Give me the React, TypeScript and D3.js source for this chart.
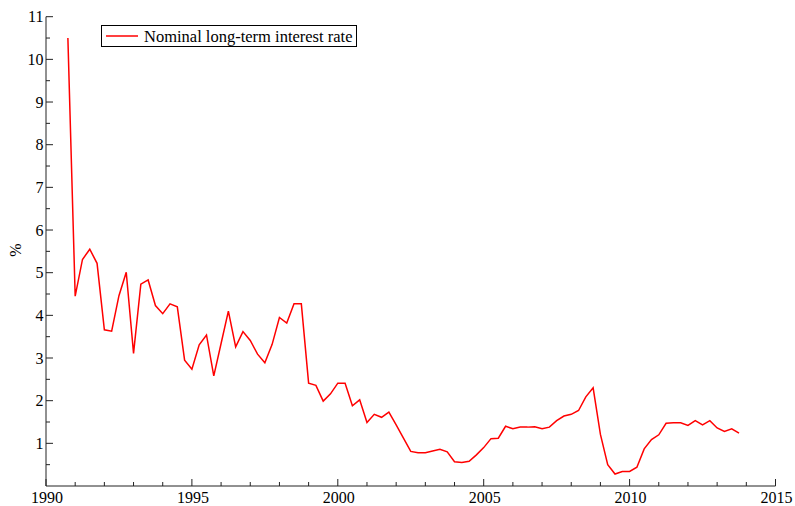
import React from "react";
import * as d3 from "d3";

const startYear = 1990.75;
const rates: number[] = [
  10.5, 4.45, 5.31, 5.55, 5.22, 3.66, 3.63, 4.46, 5.01, 3.11,
  4.73, 4.83, 4.23, 4.04, 4.27, 4.2, 2.95, 2.74, 3.31, 3.54,
  2.58, 3.34, 4.1, 3.26, 3.62, 3.41, 3.09, 2.89, 3.32, 3.95,
  3.82, 4.27, 4.27, 2.41, 2.36, 1.99, 2.16, 2.41, 2.41, 1.88,
  2.02, 1.49, 1.68, 1.61, 1.73, 1.43, 1.12, 0.81, 0.78, 0.78,
  0.82, 0.86, 0.8, 0.57, 0.55, 0.58, 0.73, 0.9, 1.11, 1.12,
  1.4, 1.34, 1.38, 1.38, 1.39, 1.34, 1.38, 1.53, 1.64, 1.68,
  1.77, 2.09, 2.3, 1.21, 0.5, 0.28, 0.34, 0.34, 0.44, 0.87,
  1.09, 1.2, 1.47, 1.48, 1.48, 1.42, 1.53, 1.43, 1.53, 1.36,
  1.28, 1.34, 1.24,
];
const xMajorTicks = [1990, 1995, 2000, 2005, 2010, 2015];
const yMajorTicks = [1, 2, 3, 4, 5, 6, 7, 8, 9, 10, 11];
const seriesLabel = "Nominal long-term interest rate";
const yLabel = "%";

export default function App() {
  const W = 795, H = 506;
  const x = d3.scaleLinear().domain([1990, 2015]).range([46, 775.5]);
  const y = d3.scaleLinear().domain([0, 11]).range([486, 16.7]);
  const pts: [number, number][] = rates.map((v, i) => [startYear + 0.25 * i, v]);
  const line = d3.line<[number, number]>().x((d) => x(d[0])).y((d) => y(d[1]));
  const xMinor = d3.range(1990, 2016, 1).filter((v) => v % 5 !== 0);
  const yMinor = d3.range(0.5, 11, 1);
  const font = "'Liberation Serif', 'Times New Roman', serif";
  const axisColor = "#222";
  return (
    <svg width={W} height={H} style={{ position: "absolute", left: 0, top: 0, background: "#fff" }} fontFamily={font}>
      {/* axes */}
      <line x1={x(1990)} x2={x(2015)} y1={y(0)} y2={y(0)} stroke={axisColor} strokeWidth={1} />
      <line x1={x(1990)} x2={x(1990)} y1={y(0)} y2={y(11)} stroke={axisColor} strokeWidth={1} />
      {xMajorTicks.map((t) => (
        <g key={"xm" + t}>
          <line x1={x(t)} x2={x(t)} y1={y(0)} y2={y(0) - 7} stroke={axisColor} />
          <text x={x(t) + 1} y={503} fontSize={16} textAnchor="middle" fill="#000">{t}</text>
        </g>
      ))}
      {xMinor.map((t) => (
        <line key={"xn" + t} x1={x(t)} x2={x(t)} y1={y(0)} y2={y(0) - 4} stroke={axisColor} />
      ))}
      {yMajorTicks.map((t) => (
        <g key={"ym" + t}>
          <line x1={x(1990)} x2={x(1990) + 7} y1={y(t)} y2={y(t)} stroke={axisColor} />
          <text x={43.5} y={y(t) + 5.5} fontSize={16} textAnchor="end" fill="#000">{t}</text>
        </g>
      ))}
      {yMinor.map((t) => (
        <line key={"yn" + t} x1={x(1990)} x2={x(1990) + 4} y1={y(t)} y2={y(t)} stroke={axisColor} />
      ))}
      <text transform={`translate(21, 250) rotate(-90)`} fontSize={16} textAnchor="middle" fill="#000">{yLabel}</text>
      {/* series */}
      <path d={line(pts) || ""} fill="none" stroke="#ff0000" strokeWidth={1.5} strokeLinejoin="miter" />
      {/* legend */}
      <rect x={101.5} y={25.5} width={255} height={21} fill="#fff" stroke="#000" strokeWidth={1} />
      <line x1={106} x2={138} y1={36} y2={36} stroke="#ff0000" strokeWidth={1.5} />
      <text x={144} y={42} fontSize={16.5} fill="#000">{seriesLabel}</text>
    </svg>
  );
}
